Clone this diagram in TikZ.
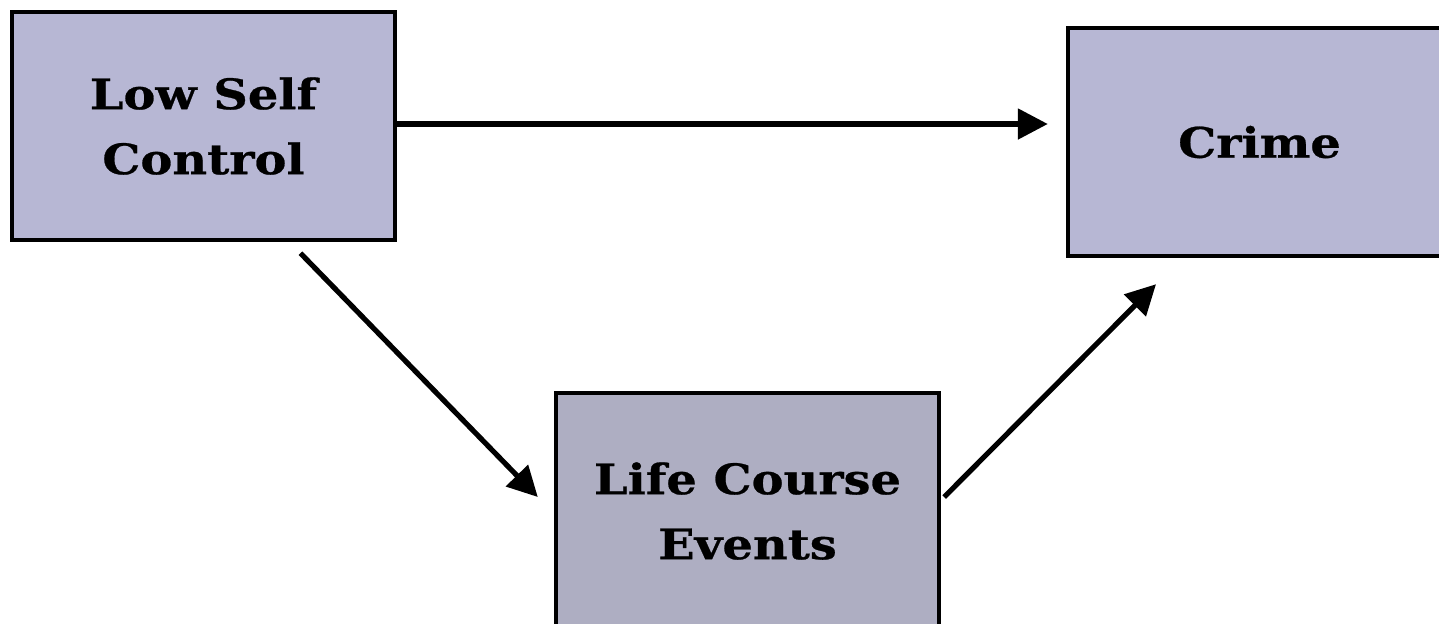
\documentclass[tikz,border=0pt]{standalone}
\usepackage{fontspec}
\setmainfont{DejaVu Serif}[BoldFeatures={FakeStretch=1.14,FakeBold=0.6}]
\usetikzlibrary{arrows.meta,positioning}
\definecolor{boxblue}{RGB}{183,183,212}
\definecolor{boxgrey}{RGB}{174,174,194}
\tikzset{
    factor/.style={
        draw=black,
        line width=2.2pt,
        fill=boxblue,
        align=center,
        minimum width=191.5pt,
        minimum height=114pt,
        font=\fontsize{21}{32.5}\selectfont\bfseries
    },
    path arrow/.style={
        line width=2.6pt,
        -{Triangle[length=15pt,width=15pt]}
    }
}
\begin{document}
\begin{tikzpicture}[x=0.5pt,y=-0.5pt]
    \useasboundingbox (0,0) rectangle (1439,623);
    \node[factor] (selfcontrol) at (203.5,126) {Low Self\\Control};
    \node[factor] (crime) at (1259.5,142) {Crime};
    % runs past the bottom edge
    \node[factor, fill=boxgrey, minimum height=118pt] (lifecourse) at (747.5,511) {Life Course\\Events};

    \draw[path arrow, shorten >=9pt]
        ([yshift=1pt]selfcontrol.east) -- ([yshift=1pt]selfcontrol.east -| crime.west);
    \draw[path arrow]
        ([xshift=48.5pt,yshift=-5.5pt]selfcontrol.south) -- ([xshift=-8pt,yshift=7pt]lifecourse.west);
    \draw[path arrow]
        ([xshift=1.5pt,yshift=7pt]lifecourse.east) -- ([xshift=-51.75pt,yshift=-13pt]crime.south);
\end{tikzpicture}
\end{document}
